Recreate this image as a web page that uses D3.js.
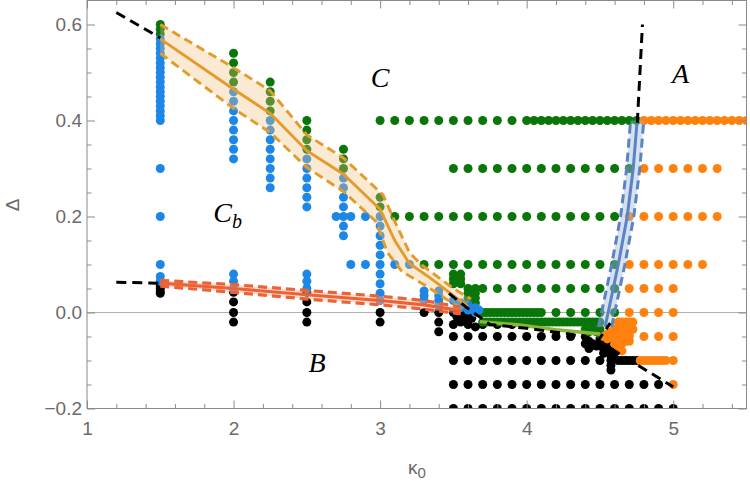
<!DOCTYPE html>
<html><head><meta charset="utf-8">
<script src="https://cdn.jsdelivr.net/npm/d3@7"></script>
<style>body{margin:0;background:#fff}svg{display:block}</style>
</head><body>
<svg id="chart" width="750" height="486"></svg>
<script>
// ---------- axes ----------
const xDomain = [1, 5.5];
const yDomain = [-0.2, 0.65];
const xTicks = [1, 2, 3, 4, 5];
const xMinorTicks = [1.2,1.4,1.6,1.8,2.2,2.4,2.6,2.8,3.2,3.4,3.6,3.8,4.2,4.4,4.6,4.8,5.2,5.4];
const yTicks = [-0.2, 0, 0.2, 0.4, 0.6];
const yTickLabels = ["\u22120.2", "0.0", "0.2", "0.4", "0.6"];
const yMinorTicks = [-0.15,-0.1,-0.05,0.05,0.1,0.15,0.25,0.3,0.35,0.45,0.5,0.55];

// ---------- data points ----------
const blackCols = [
  {x:1.5, ys:[0.055,0.05,0.045,0.04]},
  {x:2.0, ys:[0.042,0.022,0.0,-0.02]},
  {x:2.5, ys:[0.042,0.022,0.0,-0.02]},
  {x:3.0, ys:[0.0,-0.02]},
  {x:3.4, ys:[0.0,-0.02,-0.04]}
];
const blackRows = [
  {y:-0.2,  xs:[3.5,3.6,3.7,3.8,3.9,4.0,4.1,4.2,4.3,4.4,4.5,4.6,4.7,4.8,4.9,5.0]},
  {y:-0.15, xs:[3.5,3.6,3.7,3.8,3.9,4.0,4.1,4.2,4.3,4.4,4.5,4.6,4.7,4.8,4.9]},
  {y:-0.1,  xs:[3.5,3.6,3.7,3.8,3.9,4.0,4.1,4.2,4.3,4.4,4.5,4.625,4.65,4.675,4.7,4.725,4.75]},
  {y:-0.05, xs:[3.5,3.6,3.7,3.8,3.9,4.0,4.1,4.2,4.3,4.4]},
  {y:-0.025,xs:[3.5,3.6,3.7,3.8,3.9]}
];
const blackExtra = [[3.3,0.0],[3.5,0.0],[3.55,0.0],[3.6,0.0],[3.525,-0.01],[3.575,-0.01],[3.625,-0.012],
  [3.55,-0.02],[3.65,-0.03],[4.425,-0.06],[4.45,-0.065],[4.4,-0.065],[4.475,-0.07],[4.5,-0.07],
  [4.525,-0.072],[4.55,-0.075],[4.575,-0.08],[4.6,-0.082],[4.5,-0.055],[4.55,-0.06],[4.575,-0.09],
  [4.575,-0.1],[4.575,-0.11],[4.575,-0.12],[4.6,-0.095],[4.425,-0.075],[4.525,-0.085]];

const greenCols = [
  {x:1.5, ys:[0.58,0.59,0.6]},
  {x:2.0, ys:[0.48,0.5,0.52,0.54]},
  {x:2.25, ys:[0.42,0.44,0.46,0.48]},
  {x:2.5, ys:[0.34,0.36,0.38,0.4]},
  {x:2.75, ys:[0.3,0.32,0.34]},
  {x:3.0, ys:[0.22,0.24]}
];
const greenRows = [
  {y:0.4, xs:[3.0,3.1,3.2,3.3,3.4,3.5,3.6,3.7,3.8,3.9,4.0,4.05,4.1,4.15,4.2,4.25,4.3,4.35,4.4,4.45,4.5,4.55,4.6,4.65,4.7,4.75]},
  {y:0.3, xs:[3.5,3.6,3.7,3.8,3.9,4.0,4.1,4.2,4.3,4.4,4.5,4.6,4.7]},
  {y:0.2, xs:[3.1,3.2,3.3,3.4,3.5,3.6,3.7,3.8,3.9,4.0,4.1,4.2,4.3,4.4,4.5,4.6]},
  {y:0.1, xs:[3.3,3.4,3.5,3.6,3.7,3.8,3.9,4.0,4.1,4.2,4.3,4.4,4.5,4.6]},
  {y:0.05, xs:[3.7,3.8,3.9,4.0,4.1,4.2,4.3,4.4,4.5,4.6]},
  {y:0.0, xs:[3.675,3.7,3.725,3.75,3.775,3.8,3.825,3.85,3.875,3.9,3.925,3.95,3.975,4.0,4.025,4.05,4.075,4.1,4.2,4.3,4.4,4.5,4.6]},
  {y:-0.02, xs:[3.7,3.725,3.75,3.775,3.8,3.825,3.85,3.875,3.9,3.925,3.95,3.975,4.0,4.025,4.05,4.075,4.1,4.125,4.15,4.175,4.2,4.225,4.25,4.275,4.3,4.325,4.35,4.375,4.4,4.425,4.45,4.475,4.5]}
];
const greenExtra = [[3.5,0.08],[3.55,0.08],[3.5,0.07],[3.55,0.07],[3.5,0.06],[3.55,0.06],
  [3.6,0.05],[3.65,0.05],[3.6,0.04],[3.65,0.04],[3.6,0.03],[3.65,0.03],[3.65,0.02],
  [4.4,-0.035],[4.425,-0.04],[4.45,-0.035],[4.475,-0.04],[4.5,-0.035],[4.5,-0.045]];

const orangeRows = [
  {y:0.4, xs:[4.8,4.85,4.9,4.95,5.0,5.05,5.1,5.15,5.2,5.25,5.3,5.35,5.4,5.45,5.5]},
  {y:0.3, xs:[4.8,4.9,5.0,5.1,5.2,5.3]},
  {y:0.2, xs:[4.7,4.8,4.9,5.0,5.1,5.2,5.3]},
  {y:0.1, xs:[4.7,4.8,4.9,5.0,5.1,5.2]},
  {y:0.05, xs:[4.7,4.8,4.9,5.0]},
  {y:0.0, xs:[4.7,4.8,4.9,5.0]},
  {y:-0.05, xs:[4.8,4.9,5.0]},
  {y:-0.1, xs:[4.775,4.8,4.825,4.85,4.875,4.9,4.925,4.95,5.0]},
  {y:-0.15, xs:[5.0]}
];
const orangeExtra = [[4.65,-0.02],[4.7,-0.02],[4.725,-0.02],[4.65,-0.03],[4.7,-0.03],[4.725,-0.035],
  [4.7,-0.045],[4.6,-0.035],[4.575,-0.04],[4.55,-0.045],[4.525,-0.05],[4.55,-0.055],[4.6,-0.05],
  [4.65,-0.05],[4.6,-0.065],[4.65,-0.065],[4.625,-0.075],[4.65,-0.08],[4.675,-0.06],[4.7,-0.05],
  [4.625,-0.02],[4.675,-0.02],[4.625,-0.03],[4.675,-0.04],[4.625,-0.045],[4.575,-0.05],
  [4.625,-0.055],[4.675,-0.05],[4.7,-0.06],[4.625,-0.065]];

const blueCols = [
  {x:1.5, ys:[0.4,0.41,0.42,0.43,0.44,0.45,0.46,0.47,0.48,0.49,0.5,0.51,0.52,0.53,0.54,0.55,0.56,0.57,0.3,0.2,0.1,0.075,0.065]},
  {x:2.0, ys:[0.32,0.34,0.36,0.38,0.4,0.42,0.44,0.46,0.08,0.065,0.05]},
  {x:2.25, ys:[0.26,0.28,0.3,0.32,0.34,0.36,0.38,0.4]},
  {x:2.5, ys:[0.22,0.24,0.26,0.28,0.3,0.32,0.08,0.065,0.05]},
  {x:2.75, ys:[0.16,0.18,0.2,0.22,0.24,0.26,0.28]},
  {x:3.0, ys:[0.025,0.04,0.06,0.08,0.1,0.12,0.14,0.16,0.18,0.2]},
  {x:3.3, ys:[0.045,0.035,0.025]},
  {x:3.4, ys:[0.045,0.035,0.025,0.015]}
];
const blueExtra = [[2.7,0.2],[2.8,0.2],[2.9,0.2],[2.8,0.1],[2.9,0.1],[3.1,0.1],[3.2,0.1],
  [3.5,0.025],[3.55,0.02],[3.55,0.01],[3.6,0.015],[3.6,0.005],[3.65,0.01],[3.65,0.0],[3.675,0.005]];

// ---------- boundary bands ----------
const obCenter = [[1.5,0.57],[2.0,0.465],[2.25,0.415],[2.5,0.337],[2.75,0.288],[3.0,0.215],[3.1,0.15],[3.2,0.102],[3.35,0.07],[3.5,0.035],[3.6,0.012]];
const obUpper  = [[1.5,0.6],[2.0,0.51],[2.25,0.462],[2.5,0.37],[2.75,0.322],[3.02,0.245],[3.1,0.19],[3.2,0.125],[3.28,0.1],[3.5,0.05],[3.62,0.028]];
const obLower  = [[1.5,0.54],[2.0,0.425],[2.25,0.375],[2.5,0.302],[2.75,0.252],[2.97,0.19],[3.05,0.125],[3.15,0.085],[3.3,0.058],[3.48,0.022],[3.56,0.005]];

const rbCenter = [[1.5,0.061],[2.0,0.05],[2.5,0.037],[3.0,0.025],[3.3,0.016],[3.55,0.004]];
const rbUpper  = [[1.5,0.067],[2.0,0.058],[2.5,0.046],[3.0,0.034],[3.3,0.025],[3.55,0.011]];
const rbLower  = [[1.5,0.055],[2.0,0.042],[2.5,0.028],[3.0,0.016],[3.3,0.007],[3.55,-0.003]];

const bbCenter = [[4.535,-0.03],[4.556,0.0],[4.625,0.1],[4.686,0.2],[4.727,0.3],[4.754,0.4]];
const bbUpper  = [[4.58,-0.03],[4.601,0.0],[4.67,0.1],[4.731,0.2],[4.772,0.3],[4.799,0.4]];
const bbLower  = [[4.49,-0.03],[4.511,0.0],[4.58,0.1],[4.641,0.2],[4.682,0.3],[4.709,0.4]];

const olive = [[3.68,-0.019],[3.95,-0.026],[4.2,-0.036],[4.5,-0.045]];

const blackDashed = [
  [[1.2,0.625],[1.5,0.572]],
  [[1.2,0.063],[1.5,0.061]],
  [[3.47,0.04],[3.6,0.008],[3.75,-0.025],[4.0,-0.033],[4.3,-0.045],[4.5,-0.062],[4.6,-0.08],[5.0,-0.155]],
  [[4.48,-0.062],[4.57,-0.022]],
  [[4.755,0.395],[4.79,0.6]]
];

const regionLabels = [
  {t:"C", x:3.0, y:0.47},
  {t:"A", x:5.05, y:0.478},
  {t:"C", sub:"b", x:1.96, y:0.188},
  {t:"B", x:2.57, y:-0.124}
];

// ---------- drawing ----------
const svg = d3.select("#chart");
const L = 87, Rt = 746.5, T = 0.5, B = 408.5;
const x = d3.scaleLinear(xDomain, [L, Rt]);
const y = d3.scaleLinear(yDomain, [B, T]);

svg.append("defs").append("clipPath").attr("id","clip")
  .append("rect").attr("x",L).attr("y",T).attr("width",Rt-L).attr("height",B-T);

const plot = svg.append("g").attr("clip-path","url(#clip)");

plot.append("line").attr("x1",L).attr("x2",Rt).attr("y1",y(0)).attr("y2",y(0))
  .attr("stroke","#b0b0b0").attr("stroke-width",1);

const expandCols = cs => cs.flatMap(c => c.ys.map(v => [c.x, v]));
const expandRows = rs => rs.flatMap(r => r.xs.map(v => [v, r.y]));

const series = [
  {pts: expandRows(blackRows).concat(expandCols(blackCols), blackExtra), color:"#000000"},
  {pts: expandRows(greenRows).concat(expandCols(greenCols), greenExtra), color:"#0A760A"},
  {pts: expandRows(orangeRows).concat(orangeExtra), color:"#FF820F"},
  {pts: expandCols(blueCols).concat(blueExtra), color:"#1C87E6"}
];
series.forEach(s => {
  plot.append("g").selectAll("circle").data(s.pts).join("circle")
    .attr("cx", d => x(d[0])).attr("cy", d => y(d[1])).attr("r", 4.5)
    .attr("fill", s.color);
});

const line = d3.line().x(d => x(d[0])).y(d => y(d[1]));

function band(center, upper, lower, color, fill, fillOp, w, dash) {
  const poly = upper.concat(lower.slice().reverse());
  plot.append("path").attr("d", line(poly) + "Z").attr("fill", fill).attr("fill-opacity", fillOp);
  [upper, lower].forEach(p => plot.append("path").attr("d", line(p)).attr("fill","none")
    .attr("stroke", color).attr("stroke-width", w).attr("stroke-dasharray", dash));
  plot.append("path").attr("d", line(center)).attr("fill","none")
    .attr("stroke", color).attr("stroke-width", w);
}
band(obCenter, obUpper, obLower, "#E39B2C", "#F2C27F", 0.34, 2.9, "9,5");
band(rbCenter, rbUpper, rbLower, "#EC6235", "#F4B59A", 0.45, 3.2, "9,5");
band(bbCenter, bbUpper, bbLower, "#5A83C2", "#9DB5DE", 0.42, 3, "9,5");

plot.append("path").attr("d", line(olive)).attr("fill","none")
  .attr("stroke","#8DB43C").attr("stroke-width",3.5);

blackDashed.forEach(p => plot.append("path").attr("d", line(p)).attr("fill","none")
  .attr("stroke","#000").attr("stroke-width",3).attr("stroke-dasharray","10,6"));

// frame
const frameColor = "#8a8a8a";
svg.append("rect").attr("x",L).attr("y",T).attr("width",Rt-L).attr("height",B-T)
  .attr("fill","none").attr("stroke",frameColor).attr("stroke-width",1);

function styleAxis(g) {
  g.select(".domain").remove();
  g.selectAll("line").attr("stroke", frameColor);
  g.selectAll("text").attr("fill","#6a6a6a").style("font-family","'Liberation Sans', Arial, sans-serif").style("font-size","19px");
}
const fmtY = d => yTickLabels[yTicks.indexOf(d)];

svg.append("g").attr("transform",`translate(0,${B})`)
  .call(d3.axisBottom(x).tickValues(xTicks).tickSize(-8).tickPadding(13).tickFormat(d3.format("d"))).call(styleAxis);
svg.append("g").attr("transform",`translate(0,${B})`)
  .call(d3.axisBottom(x).tickValues(xMinorTicks).tickSize(-4.5).tickFormat("")).call(styleAxis);
svg.append("g").attr("transform",`translate(0,${T})`)
  .call(d3.axisTop(x).tickValues(xTicks).tickSize(-8).tickFormat("")).call(styleAxis);
svg.append("g").attr("transform",`translate(0,${T})`)
  .call(d3.axisTop(x).tickValues(xMinorTicks).tickSize(-4.5).tickFormat("")).call(styleAxis);
svg.append("g").attr("transform",`translate(${L},0)`)
  .call(d3.axisLeft(y).tickValues(yTicks).tickSize(-8).tickPadding(5).tickFormat(fmtY)).call(styleAxis);
svg.append("g").attr("transform",`translate(${L},0)`)
  .call(d3.axisLeft(y).tickValues(yMinorTicks).tickSize(-4.5).tickFormat("")).call(styleAxis);
svg.append("g").attr("transform",`translate(${Rt},0)`)
  .call(d3.axisRight(y).tickValues(yTicks).tickSize(-8).tickFormat("")).call(styleAxis);
svg.append("g").attr("transform",`translate(${Rt},0)`)
  .call(d3.axisRight(y).tickValues(yMinorTicks).tickSize(-4.5).tickFormat("")).call(styleAxis);

// axis labels
const xl = svg.append("text").attr("x", 417).attr("y", 474).attr("text-anchor","middle")
  .attr("fill","#6a6a6a").style("font-family","'Liberation Sans', Arial, sans-serif").style("font-size","19px");
xl.append("tspan").text("κ");
xl.append("tspan").text("0").attr("dy",4).style("font-size","15px");
svg.append("text").attr("transform","translate(19,205) rotate(-90)").attr("text-anchor","middle")
  .attr("fill","#6a6a6a").style("font-family","'Liberation Sans', Arial, sans-serif").style("font-size","19px").text("Δ");

// region labels
regionLabels.forEach(r => {
  const t = svg.append("text").attr("x", x(r.x)).attr("y", y(r.y)).attr("text-anchor","middle")
    .style("font-family","'Liberation Serif', 'Times New Roman', serif").style("font-style","italic")
    .style("font-size","28px").attr("fill","#000");
  t.append("tspan").text(r.t);
  if (r.sub) t.append("tspan").text(r.sub).attr("dy",6).style("font-size","20px");
});
</script>
</body></html>
